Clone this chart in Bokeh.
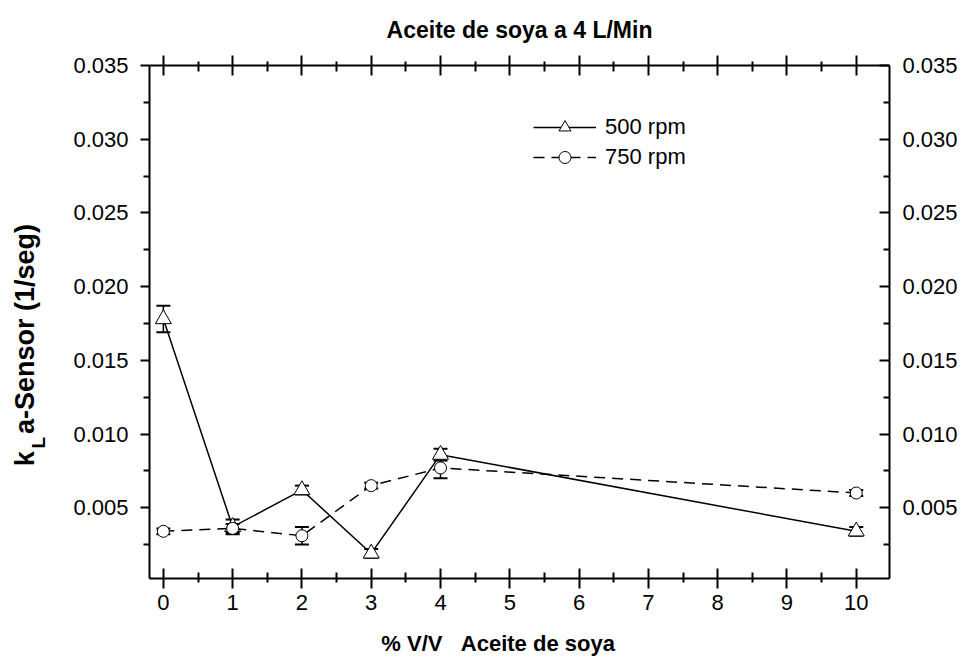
import math
from bokeh.plotting import figure
from bokeh.layouts import row
from bokeh.models import (LinearAxis, FixedTicker, Whisker, ColumnDataSource, TeeHead,
                          Legend, LegendItem, Range1d, NumeralTickFormatter)
from bokeh.core.properties import value
from bokeh.embed import file_html
from bokeh.resources import INLINE

# ---- data ----
conc = [0, 1, 2, 3, 4, 10]
kla_500 = [0.0178, 0.0037, 0.0062, 0.0019, 0.0086, 0.0034]
err_500 = [0.0009, 0.0005, 0.0003, 0.0003, 0.0004, 0.0003]
kla_750 = [0.0034, 0.0036, 0.0031, 0.0065, 0.0077, 0.0060]
err_750 = [0.0002, 0.0003, 0.0006, 0.0002, 0.0007, 0.0002]

x_ticks = [0, 1, 2, 3, 4, 5, 6, 7, 8, 9, 10]
x_minor = [0.5, 1.5, 2.5, 3.5, 4.5, 5.5, 6.5, 7.5, 8.5, 9.5]
y_ticks = [0.005, 0.010, 0.015, 0.020, 0.025, 0.030, 0.035]
y_minor = [0.0025, 0.0075, 0.0125, 0.0175, 0.0225, 0.0275, 0.0325]

title_text = "Aceite de soya a 4 L/Min"
xlabel_text = "% V/V\u00a0\u00a0\u00a0Aceite de soya"
ylabel_parts = ["k", "L", "a-Sensor (1/seg)"]
series_names = ["500 rpm", "750 rpm"]

FONT = "Liberation Sans"
H = 658
FRAME_TOP, FRAME_BOTTOM = 65, 579

src500 = ColumnDataSource(dict(x=conc, y=kla_500,
                               up=[v + e for v, e in zip(kla_500, err_500)],
                               lo=[v - e for v, e in zip(kla_500, err_500)]))
src750 = ColumnDataSource(dict(x=conc, y=kla_750,
                               up=[v + e for v, e in zip(kla_750, err_750)],
                               lo=[v - e for v, e in zip(kla_750, err_750)]))

p = figure(width=916, height=H, output_backend="svg", toolbar_location=None,
           x_range=Range1d(-0.2, 10.48), y_range=Range1d(0.0002, 0.035),
           min_border_left=99, min_border_right=77, min_border_top=FRAME_TOP,
           min_border_bottom=H - FRAME_BOTTOM)
p.outline_line_color = None
p.xgrid.grid_line_color = None
p.ygrid.grid_line_color = None

def style_axis(ax, tick_in, tick_out, minor_in, minor_out):
    ax.axis_line_width = 2
    ax.axis_line_color = "black"
    ax.major_tick_line_width = 2
    ax.minor_tick_line_width = 2
    ax.major_tick_line_color = "black"
    ax.minor_tick_line_color = "black"
    ax.major_tick_in = tick_in
    ax.major_tick_out = tick_out
    ax.minor_tick_in = minor_in
    ax.minor_tick_out = minor_out
    ax.major_label_text_font = FONT
    ax.major_label_text_color = "black"
    ax.major_label_text_font_size = "22px"

# bottom axis
xb = p.xaxis[0]
xb.ticker = FixedTicker(ticks=x_ticks, minor_ticks=x_minor)
style_axis(xb, 10, 10, 6, 4)
xb.major_label_standoff = 6
xb.axis_label = xlabel_text + "\u00a0" * 7
xb.axis_label_text_font = FONT
xb.axis_label_text_font_style = "bold"
xb.axis_label_text_font_size = "22px"
xb.axis_label_text_color = "black"
xb.axis_label_standoff = 18

# left axis
yl = p.yaxis[0]
yl.ticker = FixedTicker(ticks=y_ticks, minor_ticks=y_minor)
yl.formatter = NumeralTickFormatter(format="0.000")
style_axis(yl, 0, 9, 0, 6)
yl.major_label_standoff = 12

# top axis (ticks only)
xt = LinearAxis(ticker=FixedTicker(ticks=x_ticks, minor_ticks=x_minor),
                major_label_overrides={t: "" for t in x_ticks})
style_axis(xt, 10, 10, 6, 4)
p.add_layout(xt, "above")

# right axis
yr = LinearAxis(ticker=FixedTicker(ticks=y_ticks, minor_ticks=y_minor),
                formatter=NumeralTickFormatter(format="0.000"))
style_axis(yr, 10, 0, 6, 0)
yr.major_label_standoff = 13
p.add_layout(yr, "right")

# title
p.title.text = title_text
p.title.align = "center"
p.title.text_font = FONT
p.title.text_font_style = "bold"
p.title.text_font_size = "23px"
p.title.text_color = "black"
p.title.standoff = 26

# error bars
for src in (src500, src750):
    w = Whisker(source=src, base="x", upper="up", lower="lo",
                line_color="black", line_width=1.5,
                upper_head=TeeHead(size=14, line_width=2, line_color="black"),
                lower_head=TeeHead(size=14, line_width=2, line_color="black"),
                level="underlay")
    p.add_layout(w)

l1 = p.line("x", "y", source=src500, line_color="black", line_width=1.5)
l2 = p.line("x", "y", source=src750, line_color="black", line_width=1.5, line_dash="11 7")
s1 = p.scatter("x", "y", source=src500, marker="triangle", size=16,
               fill_color="white", line_color="black", line_width=1)
s2 = p.scatter("x", "y", source=src750, marker="circle", size=12,
               fill_color="white", line_color="black", line_width=1)

legend = Legend(items=[LegendItem(label=series_names[0], renderers=[l1, s1]),
                       LegendItem(label=series_names[1], renderers=[l2, s2])],
                location=(384, 406), padding=0, margin=0, spacing=-2,
                glyph_width=63, glyph_height=30, label_height=20, label_standoff=9,
                label_text_font=FONT, label_text_font_size="22px", label_text_color="black",
                border_line_alpha=0, background_fill_alpha=0)
p.add_layout(legend)

# y-axis title panel (k_L a-Sensor (1/seg)) drawn as rotated text, centred pieces.
# The row aligns this panel's frame with the main frame, so its y range is set
# so that data y = H - page y.
side = figure(width=50, height=H, output_backend="svg", toolbar_location=None,
              x_range=Range1d(0, 50), y_range=Range1d(H - FRAME_BOTTOM, H - FRAME_TOP),
              x_axis_type=None, y_axis_type=None, min_border=0)
side.outline_line_color = None
side.grid.visible = False
pieces_x = [24, 38, 24]
pieces_y = [H - 459, H - 443, H - 329]
pieces_size = ["27px", "19px", "27px"]
for txt, px, py, fs in zip(ylabel_parts, pieces_x, pieces_y, pieces_size):
    side.text(x=[px], y=[py], text=[txt], angle=math.pi / 2,
              text_align="center", text_baseline="middle", text_font=value(FONT),
              text_font_style="bold", text_font_size=value(fs), text_color="black")

layout = row(side, p)
open("out.html", "w").write(file_html(layout, INLINE))
